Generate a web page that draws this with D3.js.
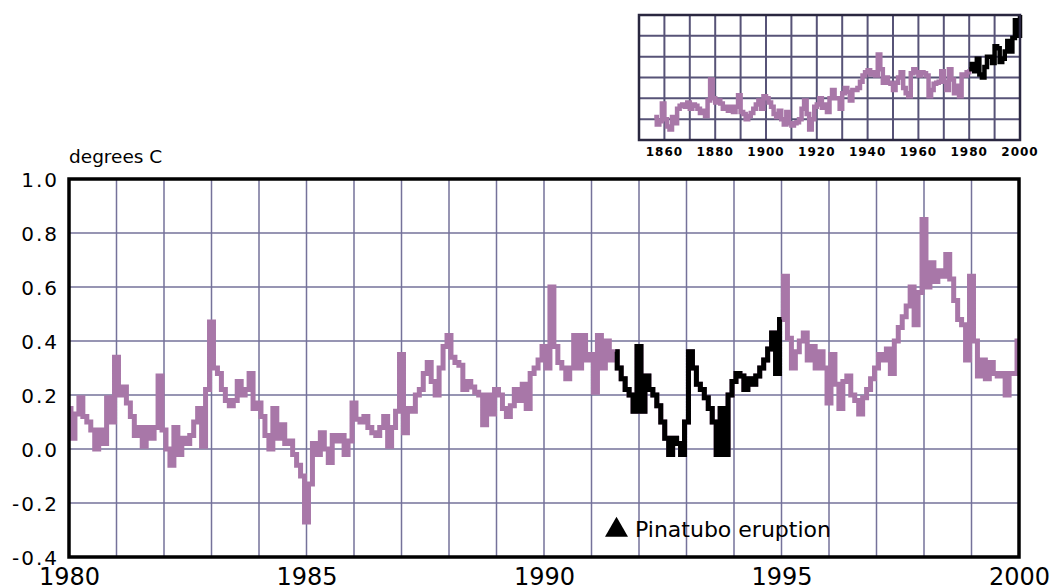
<!DOCTYPE html>
<html>
<head>
<meta charset="utf-8">
<script src="https://cdn.jsdelivr.net/npm/d3@7"></script>
<style>
  html, body { margin: 0; padding: 0; background: #fff; }
  svg { display: block; }
</style>
</head>
<body>
<div id="chart"></div>
<script>

// monthly global temperature anomaly, degrees C, Jan 1980 .. Jan 2000
const startYear = 1980;
const monthly1980s = [
    0.15, 0.04, 0.13, 0.19, 0.12, 0.10, 0.07, 0.00, 0.07, 0.02, 0.19, 0.10,
    0.34, 0.20, 0.23, 0.17, 0.12, 0.05, 0.08, 0.01, 0.08, 0.04, 0.08, 0.27,
    0.07, 0.00, -0.06, 0.08, -0.02, 0.04, 0.02, 0.05, 0.10, 0.15, 0.01, 0.22,
    0.47, 0.30, 0.28, 0.22, 0.18, 0.16, 0.18, 0.25, 0.20, 0.22, 0.28, 0.15,
    0.17, 0.12, 0.05, 0.00, 0.15, 0.04, 0.09, 0.02, 0.03, -0.02, -0.06, -0.10,
    -0.27, -0.13, 0.02, -0.02, 0.06, 0.00, -0.05, 0.05, 0.03, 0.05, -0.02, 0.03,
    0.17, 0.11, 0.10, 0.12, 0.08, 0.06, 0.05, 0.08, 0.12, 0.01, 0.08, 0.14,
    0.35, 0.06, 0.15, 0.14, 0.20, 0.22, 0.28, 0.32, 0.25, 0.20, 0.30, 0.38,
    0.42, 0.34, 0.32, 0.31, 0.22, 0.25, 0.23, 0.21, 0.20, 0.09, 0.20, 0.13,
    0.22, 0.20, 0.15, 0.12, 0.16, 0.22, 0.18, 0.24, 0.15, 0.28, 0.30, 0.33
];
const monthly1990s = [
    0.38, 0.30, 0.60, 0.38, 0.32, 0.30, 0.26, 0.30, 0.42, 0.30, 0.42, 0.33,
    0.35, 0.21, 0.42, 0.30, 0.40, 0.33, 0.36, 0.30, 0.26, 0.22, 0.20, 0.14,
    0.38, 0.14, 0.27, 0.22, 0.20, 0.16, 0.10, 0.04, -0.02, 0.04, 0.02, -0.02,
    0.10, 0.36, 0.30, 0.24, 0.22, 0.19, 0.15, 0.10, -0.02, 0.15, -0.02, 0.20,
    0.25, 0.28, 0.27, 0.22, 0.26, 0.24, 0.27, 0.30, 0.33, 0.37, 0.43, 0.28,
    0.48, 0.64, 0.41, 0.30, 0.36, 0.40, 0.43, 0.33, 0.38, 0.30, 0.36, 0.30,
    0.17, 0.35, 0.24, 0.15, 0.25, 0.27, 0.20, 0.18, 0.13, 0.19, 0.22, 0.26,
    0.30, 0.35, 0.33, 0.37, 0.28, 0.40, 0.45, 0.49, 0.53, 0.60, 0.46, 0.58,
    0.85, 0.60, 0.69, 0.62, 0.66, 0.64, 0.72, 0.63, 0.55, 0.48, 0.46, 0.33,
    0.64, 0.40, 0.27, 0.33, 0.26, 0.32, 0.28, 0.27, 0.28, 0.20, 0.28, 0.28,
    0.40
];
// months after Pinatubo, drawn in black
const pinatuboStart = 1991.5;
const pinatuboEnd = 1995.0;

const yTicks = [-0.4, -0.2, 0.0, 0.2, 0.4, 0.6, 0.8, 1.0];
const xTicks = [1980, 1985, 1990, 1995, 2000];

// inset: annual anomaly 1856 .. 2000
const annualStart = 1856;
const annualAnomaly = [
    -0.38, -0.45, -0.42, -0.25,
    -0.40, -0.47, -0.50, -0.38, -0.44, -0.30, -0.27, -0.26, -0.28, -0.24,
    -0.30, -0.26, -0.27, -0.30, -0.34, -0.32, -0.37, -0.22, -0.02, -0.20,
    -0.24, -0.22, -0.25, -0.30, -0.28, -0.32, -0.28, -0.33, -0.28, -0.17,
    -0.33, -0.35, -0.40, -0.37, -0.34, -0.30, -0.26, -0.22, -0.30, -0.18,
    -0.20, -0.24, -0.28, -0.35, -0.38, -0.32, -0.40, -0.45, -0.33, -0.44,
    -0.46, -0.44, -0.43, -0.40, -0.30, -0.22, -0.35, -0.50, -0.40, -0.28,
    -0.26, -0.20, -0.29, -0.26, -0.33, -0.20, -0.12, -0.20, -0.20, -0.30,
    -0.15, -0.10, -0.14, -0.22, -0.12, -0.12, -0.10, -0.04, 0.02, 0.05,
    0.07, 0.03, 0.05, 0.02, 0.22, 0.08, -0.05, 0.00, -0.05, -0.06,
    -0.12, -0.05, 0.00, 0.05, -0.10, -0.15, -0.18, 0.04, 0.08, 0.05,
    0.02, 0.05, 0.04, 0.02, -0.18, -0.12, -0.06, -0.05, -0.04, 0.06,
    -0.04, -0.12, 0.08, -0.02, -0.15, -0.08, -0.18, 0.03, 0.02, 0.05,
    0.08, 0.13, 0.06, 0.18, 0.03, 0.00, 0.10, 0.20, 0.20, 0.14,
    0.30, 0.28, 0.15, 0.18, 0.25, 0.35, 0.25, 0.38, 0.55, 0.40,
    0.60
];
const insetBlackFrom = 1980;
const insetYTicks = [-0.6, -0.4, -0.2, 0.0, 0.2, 0.4, 0.6];
const insetLabels = [1860, 1880, 1900, 1920, 1940, 1960, 1980, 2000];

const colors = {
    series: "#a877a8",
    volcano: "#000000",
    grid: "#75729a",
    insetGrid: "#575377",
    text: "#000000",
};

const drawChart = () => {
    const width = 1052;
    const height = 586;
    const font = "'DejaVu Sans', sans-serif";

    const svg = d3.select("#chart")
        .append("svg")
        .attr("width", width)
        .attr("height", height)
        .attr("viewBox", [0, 0, width, height]);

    // ---- main chart ----
    const box = { left: 69, right: 1019, top: 179, bottom: 557 };

    const x = d3.scaleLinear()
        .domain([1980, 2000])
        .range([box.left, box.right]);
    const y = d3.scaleLinear()
        .domain([-0.4, 1.0])
        .range([box.bottom, box.top]);

    const series = monthly1980s.concat(monthly1990s)
        .map((v, i) => ({ t: startYear + i / 12, v: v }));

    // grid
    const grid = svg.append("g").attr("stroke", colors.grid).attr("stroke-width", 1.5);
    grid.selectAll("line.v")
        .data(x.ticks(20).filter(d => d > 1980 && d < 2000))
        .join("line")
        .attr("class", "v")
        .attr("x1", d => x(d)).attr("x2", d => x(d))
        .attr("y1", box.top).attr("y2", box.bottom);
    grid.selectAll("line.h")
        .data(yTicks.filter(d => d > -0.4 && d < 1.0))
        .join("line")
        .attr("class", "h")
        .attr("x1", box.left).attr("x2", box.right)
        .attr("y1", d => y(d)).attr("y2", d => y(d));

    const line = d3.line()
        .x(d => x(d.t))
        .y(d => y(d.v))
        .curve(d3.curveStep);

    svg.append("path")
        .datum(series)
        .attr("fill", "none")
        .attr("stroke", colors.series)
        .attr("stroke-width", 5)
        .attr("d", line);

    svg.append("path")
        .datum(series.filter(d => d.t >= pinatuboStart - 1e-6 && d.t <= pinatuboEnd + 1e-6))
        .attr("fill", "none")
        .attr("stroke", colors.volcano)
        .attr("stroke-width", 5)
        .attr("d", line);

    // frame
    svg.append("rect")
        .attr("x", box.left).attr("y", box.top)
        .attr("width", box.right - box.left)
        .attr("height", box.bottom - box.top)
        .attr("fill", "none")
        .attr("stroke", "#000")
        .attr("stroke-width", 3.5);

    // axes
    const gy = svg.append("g")
        .attr("transform", `translate(${box.left},0)`)
        .call(d3.axisLeft(y).tickValues(yTicks).tickSize(0).tickPadding(10)
            .tickFormat(d => d.toFixed(1)))
        .call(g => g.select(".domain").remove());
    gy.selectAll("text")
        .attr("font-family", font)
        .attr("font-size", 20)
        .attr("letter-spacing", 2)
        .attr("fill", colors.text)
        .attr("dy", "0.36em");

    const gx = svg.append("g")
        .attr("transform", `translate(0,${box.bottom})`)
        .call(d3.axisBottom(x).tickValues(xTicks).tickSize(0).tickFormat(d3.format("d")))
        .call(g => g.select(".domain").remove());
    gx.selectAll("text")
        .attr("font-family", font)
        .attr("font-size", 24)
        .attr("fill", colors.text)
        .attr("y", 28)
        .attr("dy", 0);

    svg.append("text")
        .attr("x", box.left)
        .attr("y", 163)
        .attr("font-family", font)
        .attr("font-size", 18.5)
        .text("degrees C");

    // Pinatubo key
    svg.append("path")
        .attr("d", d3.symbol(d3.symbolTriangle, 229)())
        .attr("transform", "translate(616.5,530)")
        .attr("fill", colors.volcano);
    svg.append("text")
        .attr("x", 635)
        .attr("y", 537)
        .attr("font-family", font)
        .attr("font-size", 22)
        .text("Pinatubo eruption");

    // ---- inset ----
    const ib = { left: 639, right: 1020, top: 15, bottom: 140 };
    const xi = d3.scaleLinear().domain([1850, 2000]).range([ib.left, ib.right]);
    const yi = d3.scaleLinear().domain([-0.6, 0.6]).range([ib.bottom, ib.top]);

    const annual = annualAnomaly.map((v, i) => ({ t: annualStart + i, v: v }));

    const igrid = svg.append("g").attr("stroke", colors.insetGrid).attr("stroke-width", 2);
    igrid.selectAll("line.v")
        .data(xi.ticks(15).filter(d => d > 1850 && d < 2000))
        .join("line")
        .attr("x1", d => xi(d)).attr("x2", d => xi(d))
        .attr("y1", ib.top).attr("y2", ib.bottom);
    igrid.selectAll("line.h")
        .data(insetYTicks.filter(d => d > -0.6 && d < 0.6))
        .join("line")
        .attr("x1", ib.left).attr("x2", ib.right)
        .attr("y1", d => yi(d)).attr("y2", d => yi(d));

    const iline = d3.line()
        .x(d => xi(d.t))
        .y(d => yi(d.v))
        .curve(d3.curveStepAfter);

    svg.append("path")
        .datum(annual.filter(d => d.t <= insetBlackFrom))
        .attr("fill", "none")
        .attr("stroke", colors.series)
        .attr("stroke-width", 4.5)
        .attr("d", iline);
    svg.append("path")
        .datum(annual.filter(d => d.t >= insetBlackFrom))
        .attr("fill", "none")
        .attr("stroke", colors.volcano)
        .attr("stroke-width", 4.5)
        .attr("d", iline);

    svg.append("rect")
        .attr("x", ib.left).attr("y", ib.top)
        .attr("width", ib.right - ib.left)
        .attr("height", ib.bottom - ib.top)
        .attr("fill", "none")
        .attr("stroke", "#2a2740")
        .attr("stroke-width", 2.5);

    svg.append("g")
        .selectAll("text")
        .data(insetLabels)
        .join("text")
        .attr("x", d => xi(d))
        .attr("y", 155.5)
        .attr("text-anchor", "middle")
        .attr("font-family", font)
        .attr("font-weight", "bold")
        .attr("font-size", 12)
        .attr("letter-spacing", 1)
        .text(d => d);
}

drawChart();
</script>
</body>
</html>
